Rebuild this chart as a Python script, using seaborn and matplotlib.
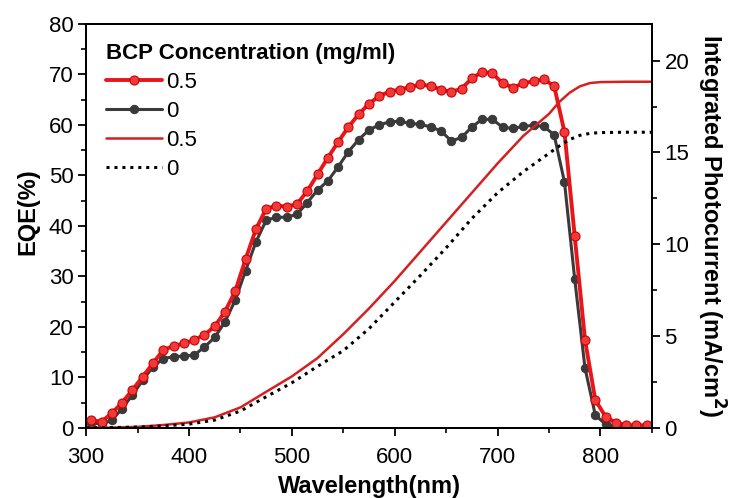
import numpy as np
import pandas as pd
import matplotlib
matplotlib.use("Agg")
import matplotlib.pyplot as plt
import seaborn as sns
from matplotlib.ticker import MultipleLocator

# EQE spectra, one point every 10 nm
wavelength = list(range(305, 850, 10))
eqe_05 = [1.5, 1.2, 2.9, 5.0, 7.5, 10.1, 12.8, 15.4, 16.2, 16.7,
          17.4, 18.4, 20.1, 23.0, 27.1, 33.4, 39.3, 43.4, 44.0, 43.8,
          44.3, 46.9, 50.2, 53.5, 56.6, 59.6, 62.1, 64.2, 65.7, 66.6,
          67.0, 67.5, 68.0, 67.7, 67.0, 66.5, 67.2, 69.2, 70.5, 70.2,
          68.2, 67.4, 68.2, 68.7, 69.0, 67.7, 58.6, 37.9, 17.4, 5.5,
          2.2, 1.0, 0.5, 0.5, 0.5]
eqe_0 = [1.0, 0.7, 1.5, 3.8, 6.5, 9.4, 12.1, 13.7, 14.1, 14.2,
         14.4, 16.0, 17.9, 21.0, 25.3, 31.1, 36.8, 41.1, 41.7, 41.7,
         42.3, 44.6, 47.1, 48.9, 51.7, 54.7, 57.1, 59.0, 60.0, 60.6,
         60.7, 60.3, 60.1, 59.6, 58.8, 56.8, 57.5, 59.6, 61.1, 61.1,
         59.5, 59.3, 59.7, 59.9, 59.7, 58.0, 48.7, 29.4, 11.8, 2.5,
         0.7, 0.2, 0.1, 0.1, 0.1]

# integrated photocurrent (mA/cm2)
wl_int = [300, 325, 350, 375, 400, 425, 450, 475, 500, 525, 550, 575, 600,
          625, 650, 675, 700, 725, 750, 760, 770, 780, 790, 800, 825, 850]
jsc_05 = [0, 0.01, 0.05, 0.15, 0.29, 0.57, 1.11, 1.96, 2.8, 3.8, 5.1, 6.5, 8.0,
          9.6, 11.2, 12.8, 14.4, 15.9, 17.1, 17.75, 18.25, 18.6, 18.78, 18.83,
          18.85, 18.85]
jsc_0 = [0, 0.01, 0.04, 0.1, 0.2, 0.42, 0.91, 1.69, 2.45, 3.35, 4.2, 5.4, 6.85,
         8.3, 9.8, 11.4, 12.8, 13.95, 14.95, 15.35, 15.7, 15.93, 16.04, 16.08,
         16.1, 16.1]

eqe_df = pd.DataFrame({"wl": wavelength, "c05": eqe_05, "c0": eqe_0})
int_df = pd.DataFrame({"wl": wl_int, "c05": jsc_05, "c0": jsc_0})

sns.set_theme(style="ticks")
plt.rcParams["font.family"] = ["Liberation Sans", "DejaVu Sans"]
plt.rcParams["text.color"] = "black"
plt.rcParams["axes.labelcolor"] = "black"
plt.rcParams["xtick.color"] = "black"
plt.rcParams["ytick.color"] = "black"

fig = plt.figure(figsize=(7.3, 4.98), dpi=100)
ax = fig.add_axes([0.118, 0.141, 0.775, 0.811])
ax2 = ax.twinx()

red = "#e8161b"
grey = "#3a3a3a"

sns.lineplot(data=eqe_df, x="wl", y="c05", ax=ax, color=red, lw=2.8,
             marker="o", markersize=6.5, markerfacecolor="#f03a3a",
             markeredgecolor="#d00000", markeredgewidth=0.8, label="0.5", zorder=4)
sns.lineplot(data=eqe_df, x="wl", y="c0", ax=ax, color=grey, lw=2.2,
             marker="o", markersize=6, markerfacecolor=grey,
             markeredgecolor=grey, label="0", zorder=3)
sns.lineplot(data=int_df, x="wl", y="c05", ax=ax2, color="#d42020", lw=1.8,
             label="0.5")
sns.lineplot(data=int_df, x="wl", y="c0", ax=ax2, color="black", lw=2.2,
             linestyle=(0, (1, 1.6)), label="0")
if ax.get_legend():
    ax.get_legend().remove()
if ax2.get_legend():
    ax2.get_legend().remove()

ax.set_xlim(300, 850)
ax.set_ylim(0, 80)
ax2.set_ylim(0, 22)

ax.xaxis.set_major_locator(MultipleLocator(100))
ax.xaxis.set_minor_locator(MultipleLocator(50))
ax.yaxis.set_major_locator(MultipleLocator(10))
ax.yaxis.set_minor_locator(MultipleLocator(5))
ax2.yaxis.set_major_locator(MultipleLocator(5))
ax2.yaxis.set_minor_locator(MultipleLocator(2.5))

for a in (ax, ax2):
    a.tick_params(which="major", direction="out", length=6, width=1.3,
                  labelsize=16, pad=3, color="black", labelcolor="black")
    a.tick_params(which="minor", direction="out", length=3.5, width=1.2,
                  color="black")
    for s in a.spines.values():
        s.set_linewidth(1.4)
        s.set_color("black")
ax.tick_params(axis="x", which="major", pad=8)

ax.set_xlabel("Wavelength(nm)", fontsize=17, fontweight="bold", labelpad=5)
ax.set_ylabel("EQE(%)", fontsize=17, fontweight="bold")
ax.yaxis.set_label_coords(-0.083, 0.534)
ax2.set_ylabel("Integrated Photocurrent (mA/cm$\\mathbf{^2}$)", fontsize=17,
               fontweight="bold", rotation=270, labelpad=27)

h1, l1 = ax.get_legend_handles_labels()
h2, l2 = ax2.get_legend_handles_labels()
leg = ax2.legend(h1 + h2, l1 + l2, loc="upper left", frameon=False,
                 title="BCP Concentration (mg/ml)", fontsize=16,
                 title_fontproperties={"weight": "bold", "size": 16},
                 handlelength=2.5, handletextpad=0.2, labelspacing=0.36,
                 borderaxespad=0.2, borderpad=0.2, alignment="left",
                 bbox_to_anchor=(0.02, 0.975))

fig.savefig("out.png", dpi=100)
